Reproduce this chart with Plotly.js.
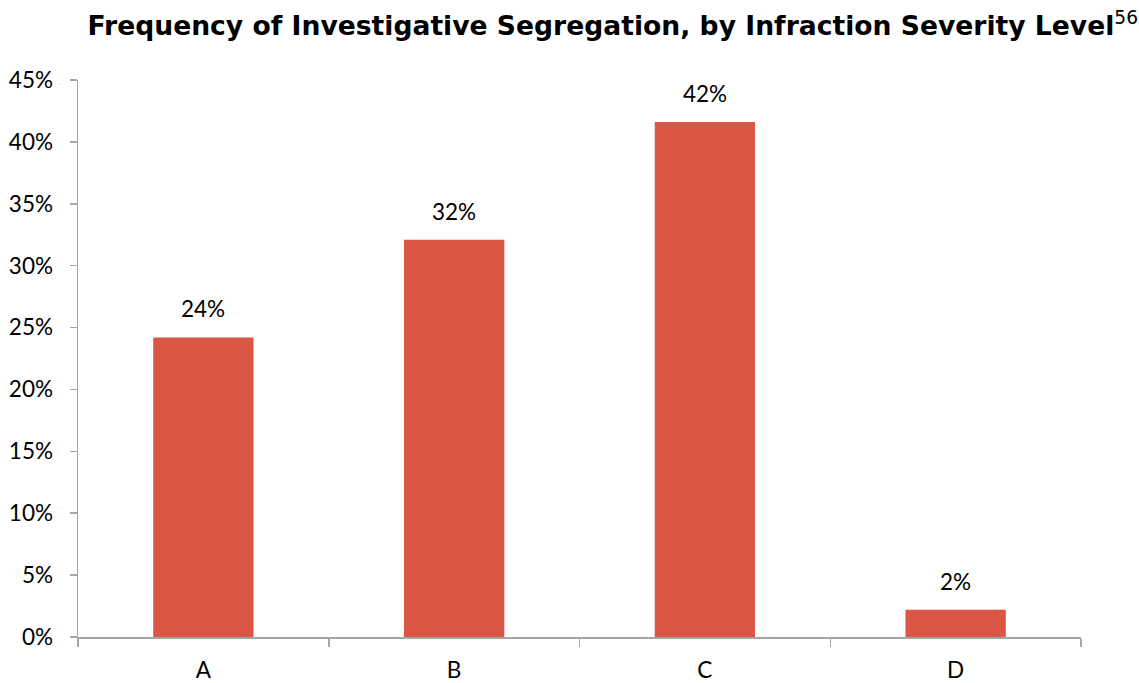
<!DOCTYPE html>
<html>
<head>
  <title>Investigative Segregation by Severity</title>
<script src="https://cdn.jsdelivr.net/npm/plotly.js-dist@3.0.1/plotly.min.js"></script>
<style>body{margin:0;} #graph{width:1139px;height:683px;}</style>
</head>
<body>
  <div id="graph"></div>
  <script>
    // severity levels and share of investigative segregation (%)
    const levels = ['A', 'B', 'C', 'D'];
    const shares = [24.2, 32.1, 41.6, 2.2];
    const labels = ['24%', '32%', '42%', '2%'];
    const yTicks = [0, 5, 10, 15, 20, 25, 30, 35, 40, 45];

    const barColor = '#DA5645';
    const axisColor = '#A6A6A6';
    const tickFont = { family: 'Lato, "Open Sans", sans-serif', size: 22.5, color: '#000' };

    const data = [{
      type: 'bar',
      x: levels,
      y: shares,
      width: 0.4,
      marker: { color: barColor },
      hoverinfo: 'skip'
    }];

    // value labels sitting a bit above each bar
    const annotations = levels.map((lv, i) => ({
      x: lv, y: shares[i], xref: 'x', yref: 'y',
      text: labels[i], showarrow: false,
      yanchor: 'bottom', yshift: 13,
      font: tickFont
    }));

    const layout = {
      width: 1139,
      height: 683,
      margin: { l: 78, r: 58, t: 80, b: 46 },
      paper_bgcolor: '#fff',
      plot_bgcolor: '#fff',
      showlegend: false,
      title: {
        text: '<b>Frequency of Investigative Segregation, by Infraction Severity Level</b><sup>56</sup>',
        font: { family: '"DejaVu Sans", Verdana, sans-serif', size: 26.6, color: '#000' },
        x: 0.538, xanchor: 'center', y: 0.962, yanchor: 'middle'
      },
      xaxis: {
        type: 'category',
        showline: true, linecolor: axisColor, linewidth: 1.5,
        ticks: 'outside', tickson: 'boundaries', ticklen: 8, tickcolor: axisColor, tickwidth: 1.5,
        tickfont: tickFont, ticklabelstandoff: 12,
        showgrid: false, zeroline: false, fixedrange: true
      },
      yaxis: {
        range: [0, 45],
        tickvals: yTicks,
        ticktext: yTicks.map(v => v + '%'),
        showline: true, linecolor: axisColor, linewidth: 1.5,
        ticks: 'outside', ticklen: 7, tickcolor: axisColor, tickwidth: 1.5,
        tickfont: tickFont, ticklabelstandoff: 12,
        showgrid: false, zeroline: false, fixedrange: true
      },
      annotations: annotations
    };

    Plotly.newPlot('graph', data, layout, { displayModeBar: false, staticPlot: true });
  </script>
</body>
</html>
